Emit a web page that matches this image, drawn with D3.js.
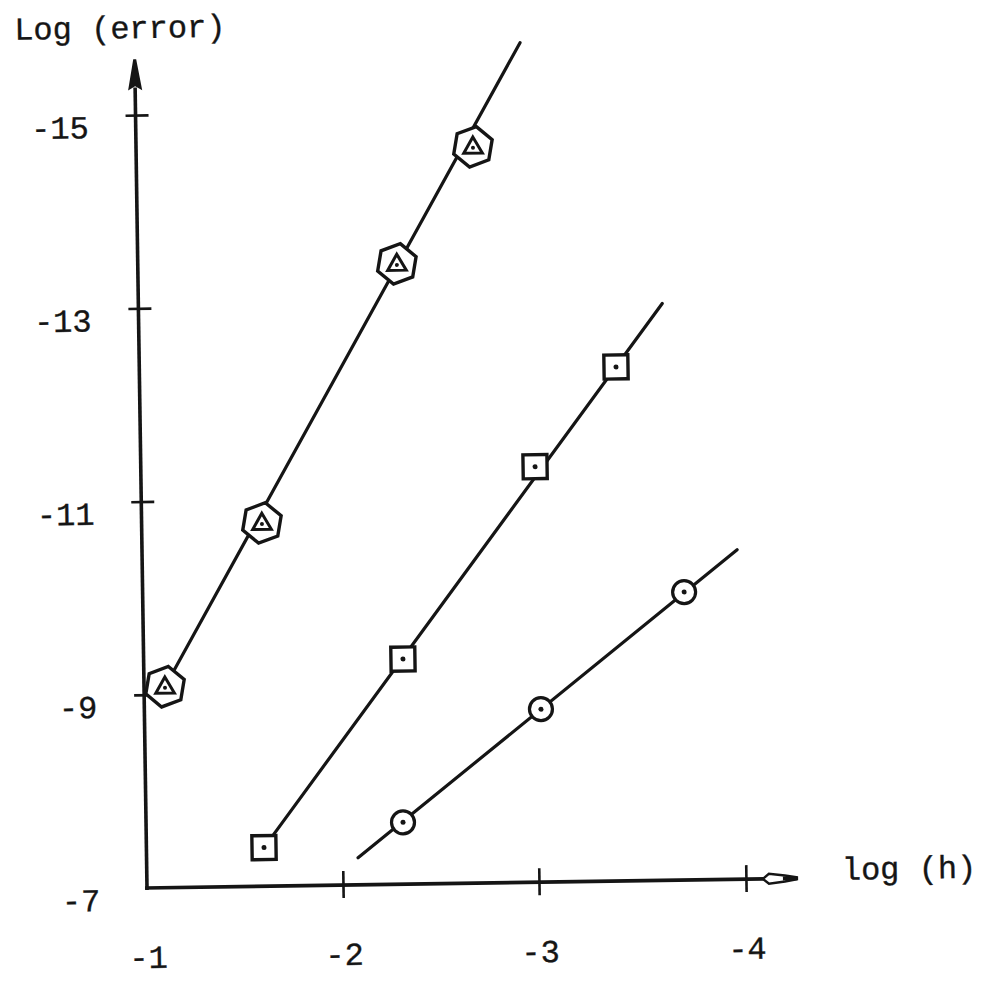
<!DOCTYPE html>
<html>
<head>
<meta charset="utf-8">
<script src="https://cdn.jsdelivr.net/npm/d3@7"></script>
<style>
  html, body { margin: 0; padding: 0; background: #fff; }
  text { font-family: "Liberation Mono", "DejaVu Sans Mono", monospace; fill: #151515; stroke: #151515; stroke-width: 0.35px; }
</style>
</head>
<body>
<div id="chart"></div>
<script>
// tick labels
var xTicks = [-1, -2, -3, -4];
var yTicks = [-15, -13, -11, -9, -7];

// hexagon / triangle series
var hexX = [-1.107, -1.614, -2.322, -2.719];
var hexY = [-9.08, -10.76, -13.42, -14.62];
var hexLineX = [-1.107, -2.967];
var hexLineY = [-9.08, -15.69];

// square series
var sqX = [-1.600, -2.323, -3.011, -3.409];
var sqY = [-7.40, -9.33, -11.30, -12.32];
var sqLineX = [-1.600, -3.637];
var sqLineY = [-7.40, -12.97];

// circle series
var circX = [-2.311, -3.022, -3.722];
var circY = [-7.64, -8.79, -9.98];
var circLineX = [-2.079, -3.981];
var circLineY = [-7.28, -10.41];

var w = 989, h = 981;
var ink = '#151515';

var svg = d3.select('#chart').append('svg')
  .attr('width', w)
  .attr('height', h)
  .style('display', 'block');

svg.append('rect').attr('width', w).attr('height', h).attr('fill', '#fff');

// the scanned page is slightly turned, so the whole frame is too
var g = svg.append('g')
  .attr('transform', 'translate(147,888) rotate(-0.85)');

// hand drawn axis: tick spacing is not quite even
var x = d3.scaleLinear().domain(xTicks).range([0, 196, 392, 599]);
var y = d3.scaleLinear().domain([-7, -15]).range([0, -773]);

var zip = function(a, b) {
  return a.map(function(v, i) { return [v, b[i]]; });
};

// axes lines
g.append('line')
  .attr('x1', 0).attr('y1', 2)
  .attr('x2', 0).attr('y2', y(-15.1) - 18)
  .attr('stroke', ink).attr('stroke-width', 3.6);
g.append('line')
  .attr('x1', -2).attr('y1', 0)
  .attr('x2', x(-4) + 20).attr('y2', 0)
  .attr('stroke', ink).attr('stroke-width', 3.6);

// y arrow (filled), x arrow (open)
var yTop = y(-15.1) - 46;
g.append('path')
  .attr('d', 'M0,' + yTop + ' L5,' + (yTop + 28) + ' L0,' + (yTop + 25) + ' L-5,' + (yTop + 28) + ' Z')
  .attr('fill', ink).attr('stroke', ink).attr('stroke-width', 3);
var xEnd = x(-4) + 51;
g.append('path')
  .attr('d', 'M' + (xEnd - 34) + ',0 L' + (xEnd - 28) + ',-5 L' + (xEnd - 12) + ',-3 L' + xEnd + ',-1 L' + xEnd + ',1 L' + (xEnd - 12) + ',3 L' + (xEnd - 28) + ',5 Z')
  .attr('fill', '#fff').attr('stroke', ink).attr('stroke-width', 2.4);
g.append('line')
  .attr('x1', xEnd - 14).attr('y1', 0).attr('x2', xEnd).attr('y2', 0)
  .attr('stroke', ink).attr('stroke-width', 4);

// ticks via d3 axes, then turned into cross marks
var yAxis = g.append('g')
  .call(d3.axisLeft(y).tickValues(yTicks).tickSize(12).tickFormat(function(d) { return '-' + Math.abs(d); }));
yAxis.select('.domain').remove();
yAxis.selectAll('.tick line')
  .attr('x1', -10).attr('x2', 13)
  .attr('stroke', ink).attr('stroke-width', 2.6)
  .filter(function(d) { return d === -7; }).remove();
yAxis.selectAll('.tick text')
  .attr('x', -47).attr('dy', 22)
  .attr('text-anchor', 'end')
  .style('font-size', '32px');

var xAxis = g.append('g')
  .call(d3.axisBottom(x).tickValues(xTicks).tickSize(13).tickFormat(function(d) { return '-' + Math.abs(d); }));
xAxis.select('.domain').remove();
xAxis.selectAll('.tick line')
  .attr('y1', -14).attr('y2', 13)
  .attr('stroke', ink).attr('stroke-width', 2.6)
  .filter(function(d) { return d === -1; }).remove();
xAxis.selectAll('.tick text')
  .attr('y', 80).attr('dy', 0)
  .style('font-size', '32px');

// axis titles
g.append('text')
  .attr('x', -120).attr('y', -850)
  .style('font-size', '32px')
  .text('Log (error)');
g.append('text')
  .attr('x', 695).attr('y', 2)
  .style('font-size', '32px')
  .text('log (h)');

// fitted lines
var line = d3.line()
  .x(function(d) { return x(d[0]); })
  .y(function(d) { return y(d[1]); });

[zip(hexLineX, hexLineY), zip(sqLineX, sqLineY), zip(circLineX, circLineY)].forEach(function(pts) {
  g.append('path')
    .attr('d', line(pts))
    .attr('fill', 'none')
    .attr('stroke', ink)
    .attr('stroke-width', 3.2)
    .attr('stroke-linecap', 'round');
});

// hexagon markers with triangle inside
var hexPath = d3.line()(d3.range(6).map(function(i) {
  var a = Math.PI / 3 * i - Math.PI / 2 + 0.18;
  return [20.5 * Math.cos(a), 20.5 * Math.sin(a)];
})) + 'Z';
var tri = d3.symbol(d3.symbolTriangle, 150)();

var hexes = g.selectAll('.hex')
  .data(zip(hexX, hexY))
  .enter().append('g')
  .attr('class', 'hex')
  .attr('transform', function(d) { return 'translate(' + x(d[0]) + ',' + y(d[1]) + ')'; });
hexes.append('path')
  .attr('d', hexPath)
  .attr('fill', '#fff').attr('stroke', ink).attr('stroke-width', 3.4);
hexes.append('path')
  .attr('d', tri)
  .attr('transform', 'translate(0,1)')
  .attr('fill', '#fff').attr('stroke', ink).attr('stroke-width', 3);
hexes.append('circle')
  .attr('r', 2).attr('cy', 1).attr('fill', ink);

// square markers
var sq = g.selectAll('.sq')
  .data(zip(sqX, sqY))
  .enter().append('g')
  .attr('class', 'sq')
  .attr('transform', function(d) { return 'translate(' + x(d[0]) + ',' + y(d[1]) + ')'; });
sq.append('rect')
  .attr('x', -12).attr('y', -12).attr('width', 24).attr('height', 24)
  .attr('fill', '#fff').attr('stroke', ink).attr('stroke-width', 3.4);
sq.append('circle').attr('r', 2.5).attr('fill', ink);

// circle markers
var circ = g.selectAll('.circ')
  .data(zip(circX, circY))
  .enter().append('g')
  .attr('class', 'circ')
  .attr('transform', function(d) { return 'translate(' + x(d[0]) + ',' + y(d[1]) + ')'; });
circ.append('circle')
  .attr('r', 11.5)
  .attr('fill', '#fff').attr('stroke', ink).attr('stroke-width', 3.2);
circ.append('circle').attr('r', 2.5).attr('fill', ink);
</script>
</body>
</html>
